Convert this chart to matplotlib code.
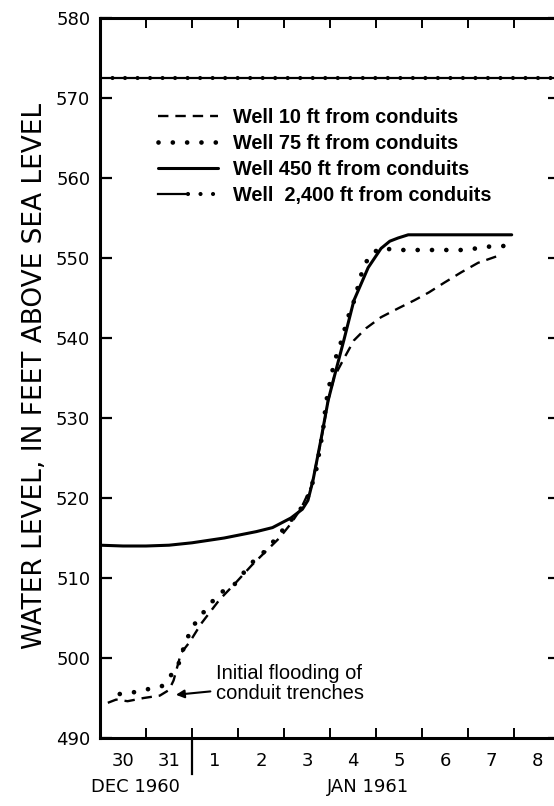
import matplotlib
matplotlib.use("Agg")
import matplotlib.pyplot as plt
from matplotlib.transforms import blended_transform_factory
from matplotlib.legend_handler import HandlerTuple

plt.rcParams['lines.scale_dashes'] = False
plt.rcParams['font.family'] = ['DejaVu Sans']

# ---- data (x = days since 30 Dec 1960, 00h) ----
days_10ft = [0.17, 0.35, 0.6, 0.95, 1.3, 1.5, 1.6, 1.76, 1.95, 2.2, 2.6, 2.95, 3.3, 3.6,
             3.9, 4.15, 4.37, 4.6, 4.8, 4.96, 5.09, 5.3, 5.52, 5.78, 6.11, 6.48, 6.83,
             7.15, 7.48, 7.85, 8.22, 8.67]
level_10ft = [494.4, 494.8, 494.6, 495.0, 495.3, 496.0, 497.2, 500.6, 502.0, 504.3, 507.3,
              509.4, 511.6, 513.3, 515.0, 516.8, 518.7, 521.5, 527.0, 532.2, 535.1, 537.4,
              539.7, 541.2, 542.6, 543.7, 544.7, 545.7, 546.9, 548.2, 549.4, 550.3]

days_75ft = [0.43, 0.72, 1.04, 1.35, 1.5, 1.7, 1.87, 2.13, 2.3, 2.57, 2.91, 3.28, 3.54, 3.76,
             3.93, 4.15, 4.37, 4.55, 4.7, 4.85, 4.91, 5.02, 5.09, 5.17, 5.28, 5.35, 5.46,
             5.57, 5.63, 5.74, 5.85, 6.11, 6.39, 6.72, 7.35, 7.96, 8.28, 8.57, 8.9]
level_75ft = [495.5, 495.7, 496.1, 496.5, 497.5, 499.1, 502.2, 505.0, 506.0, 508.0, 509.1,
              511.8, 513.1, 514.5, 515.7, 517.2, 518.7, 520.5, 523.5, 528.5, 531.8, 535.1,
              536.8, 538.4, 540.1, 541.9, 543.7, 545.3, 547.2, 548.8, 550.3, 551.3, 551.0,
              551.0, 551.0, 551.0, 551.3, 551.5, 551.5]

days_450ft = [0.0, 0.5, 1.0, 1.5, 2.0, 2.7, 3.4, 3.75, 4.15, 4.4, 4.52, 4.63, 4.8, 4.96,
              5.09, 5.3, 5.52, 5.83, 6.11, 6.3, 6.48, 6.7, 7.5, 8.95]
level_450ft = [514.1, 514.0, 514.0, 514.1, 514.4, 515.0, 515.8, 516.3, 517.5, 518.6, 519.7,
               522.2, 527.2, 532.2, 535.1, 539.7, 544.7, 548.8, 551.2, 552.1, 552.5, 552.9,
               552.9, 552.9]

days_2400ft = [0.0, 10.0]
level_2400ft = [572.5, 572.5]

labels = ["Well 10 ft from conduits", "Well 75 ft from conduits",
          "Well 450 ft from conduits", "Well  2,400 ft from conduits"]
day_labels = ["30", "31", "1", "2", "3", "4", "5", "6", "7", "8"]
y_ticks = [490, 500, 510, 520, 530, 540, 550, 560, 570, 580]

W, H = 554, 806
fig = plt.figure(figsize=(W / 100, H / 100), dpi=100)
ax = fig.add_axes([100 / W, 68 / H, 460 / W, 720 / H])

narrow = ['Liberation Sans', 'DejaVu Sans']

h10, = ax.plot(days_10ft, level_10ft, color='black', lw=1.7, linestyle=(0, (7.5, 5)))
h75, = ax.plot(days_75ft, level_75ft, color='black', lw=3.4, linestyle=(0, (0.01, 10.3)),
               dash_capstyle='round')
h450, = ax.plot(days_450ft, level_450ft, color='black', lw=2.2, solid_capstyle='round')
h2400a, = ax.plot(days_2400ft, level_2400ft, color='black', lw=1.6)
h2400b, = ax.plot(days_2400ft, level_2400ft, color='black', lw=3.0,
                  linestyle=(0, (0.01, 9.0)), dash_capstyle='round')

ax.set_xlim(0, 10)
ax.set_ylim(490, 580)

for s in ax.spines.values():
    s.set_linewidth(2.2)

ax.set_yticks(y_ticks)
ax.tick_params(axis='y', which='major', direction='in', length=8.6, width=1.6,
               left=True, right=True, labelsize=13, pad=7)
ax.set_xticks(range(1, 10))
ax.set_xticks([i + 0.5 for i in range(10)], minor=True)
ax.set_xticklabels(day_labels, minor=True)
ax.tick_params(axis='x', which='major', direction='in', length=7.5, width=1.4,
               bottom=True, top=True, labelbottom=False)
ax.tick_params(axis='x', which='minor', length=0, labelsize=13, pad=10)

# extended separator between December and January
ax.axvline(2, ymin=-0.05, ymax=0.0, color='black', lw=1.6, clip_on=False)

trans = blended_transform_factory(ax.transData, ax.transAxes)
ax.text(0.78, -0.068, "DEC 1960", transform=trans, ha='center', va='center', fontsize=13)
ax.text(5.83, -0.068, "JAN 1961", transform=trans, ha='center', va='center', fontsize=13)

fig.text(35 / W, 1 - 376 / H, "WATER LEVEL, IN FEET ABOVE SEA LEVEL", rotation=90,
         ha='center', va='center', fontsize=19, family=['DejaVu Sans'])

ax.annotate("Initial flooding of\nconduit trenches", xy=(1.65, 495.4), xytext=(2.52, 496.8),
            ha='left', va='center', fontsize=14.5, family=narrow, linespacing=1.1,
            arrowprops=dict(arrowstyle='-|>', lw=1.5, color='black', shrinkA=2, shrinkB=0,
                            mutation_scale=12))

leg = ax.legend([h10, h75, h450, (h2400a, h2400b)], labels,
                handler_map={tuple: HandlerTuple(ndivide=None)},
                loc='upper left', bbox_to_anchor=(158 / W, 1 - 108 / H),
                bbox_transform=fig.transFigure, frameon=False, borderpad=0,
                borderaxespad=0, handlelength=3.0, handletextpad=0.8, labelspacing=0.36,
                prop={'family': narrow, 'weight': 'bold', 'size': 14.3})

fig.savefig("out.png", dpi=100)
